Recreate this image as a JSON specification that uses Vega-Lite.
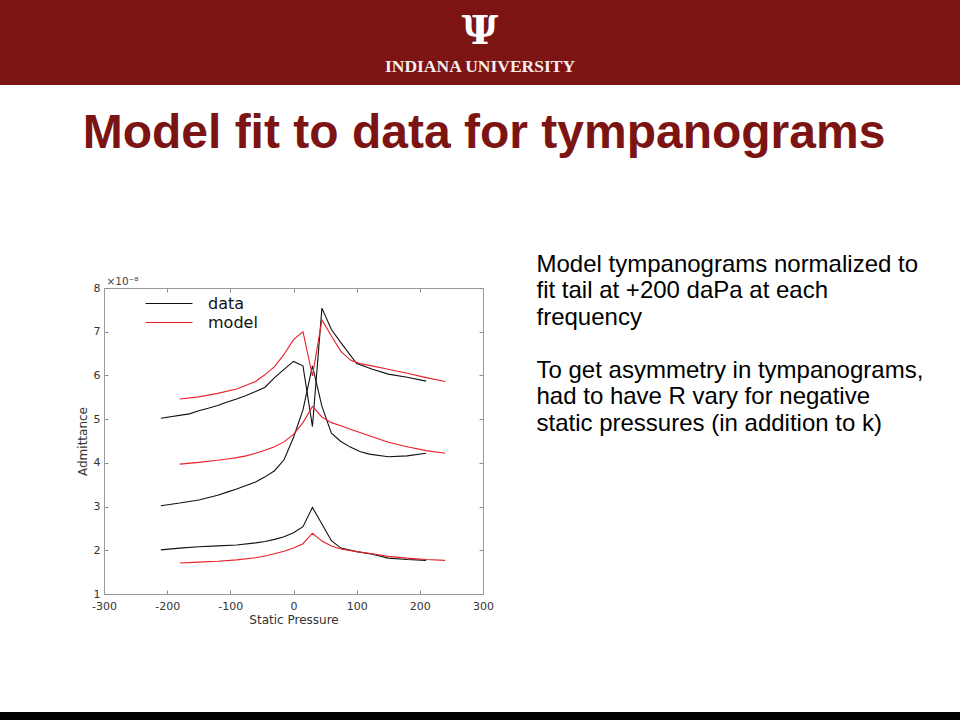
{
  "$schema": "https://vega.github.io/schema/vega-lite/v6.json",
  "padding": 0,
  "background": "white",
  "bounds": "flush",
  "spacing": 0,
  "config": {"view": {"stroke": null}, "font": "Liberation Sans"},
  "vconcat": [
    {
      "width": 960,
      "height": 85,
      "view": {"fill": "#7b1412", "stroke": null},
      "data": {"values": [{"logo": "Ψ", "org": "INDIANA UNIVERSITY"}]},
      "layer": [
        {"mark": {"type": "text", "font": "DejaVu Serif", "fontWeight": "bold", "fontSize": 40, "fill": "white", "baseline": "middle", "dy": -11}, "encoding": {"text": {"field": "logo"}}},
        {"mark": {"type": "text", "font": "Liberation Serif", "fontWeight": "bold", "fontSize": 17.5, "fill": "#f6eeee", "baseline": "alphabetic", "dy": 29}, "encoding": {"text": {"field": "org"}}}
      ]
    },
    {
      "width": 960,
      "height": 203,
      "data": {"values": [{"heading": "Model fit to data for tympanograms"}]},
      "mark": {"type": "text", "font": "Liberation Sans", "fontWeight": "bold", "fontSize": 48, "fill": "#7b1412", "baseline": "alphabetic", "dx": 4, "dy": -38.5},
      "encoding": {"text": {"field": "heading"}}
    },
    {
      "width": 960,
      "height": 306,
      "layer": [
        {
          "data": {"name": "tymp"},
          "transform": [{"filter": "datum.series === 'data'"}],
          "mark": {"type": "line", "strokeWidth": 1.1},
          "encoding": {
            "x": {"field": "pressure", "type": "quantitative", "scale": {"domain": [-300, 300], "range": [104, 483], "nice": false},
              "axis": {"orient": "bottom", "values": [-300, -200, -100, 0, 100, 200, 300], "labelExpr": "replace(datum.label, '−', '-')", "title": "Static Pressure", "grid": false, "domain": true, "domainColor": "#9a9a9a", "tickSize": -4, "tickColor": "#8c8c8c", "labelPadding": 10, "labelFlush": false, "labelOverlap": false, "labelFont": "DejaVu Sans", "labelFontSize": 11, "labelColor": "#333333", "titleFont": "DejaVu Sans", "titleFontSize": 12, "titleFontWeight": "normal", "titleColor": "#333333", "titlePadding": 3}},
            "y": {"field": "admittance", "type": "quantitative", "scale": {"domain": [1, 8], "nice": false},
              "axis": {"orient": "left", "offset": -104, "values": [1, 2, 3, 4, 5, 6, 7, 8], "title": "Admittance", "grid": false, "domain": true, "domainColor": "#9a9a9a", "tickSize": -4, "tickColor": "#8c8c8c", "labelPadding": 8, "labelFlush": false, "labelOverlap": false, "labelFont": "DejaVu Sans", "labelFontSize": 11, "labelColor": "#333333", "titleFont": "DejaVu Sans", "titleFontSize": 12, "titleFontWeight": "normal", "titleColor": "#333333", "titlePadding": 4}},
            "color": {"field": "series", "type": "nominal", "scale": {"domain": ["data", "model"], "range": ["#111111", "#e8202a"]},
              "legend": {"orient": "none", "legendX": 159, "legendY": 293.5, "title": null, "direction": "vertical", "symbolType": "M-2.5,0H2.5", "symbolSize": 353, "symbolStrokeWidth": 1.1, "symbolFillColor": "transparent", "labelFont": "DejaVu Sans", "labelFontSize": 16, "labelColor": "#111111", "labelOffset": 29, "rowPadding": 1, "padding": 0}},
            "detail": {"field": "curve"}
          }
        },
        {
          "data": {"name": "tymp"},
          "transform": [{"filter": "datum.series === 'model'"}],
          "mark": {"type": "line", "strokeWidth": 1.1},
          "encoding": {
            "x": {"field": "pressure", "type": "quantitative", "scale": {"domain": [-300, 300], "range": [104, 483], "nice": false},
              "axis": {"orient": "top", "values": [-300, -200, -100, 0, 100, 200, 300], "labels": false, "grid": false, "domain": true, "domainColor": "#9a9a9a", "tickSize": -4, "tickColor": "#8c8c8c", "title": "×10⁻⁸", "titleAnchor": "start", "titleAlign": "left", "titleBaseline": "alphabetic", "titleX": 106, "titleY": -4, "titleFont": "DejaVu Sans", "titleFontSize": 10.5, "titleFontWeight": "normal", "titleColor": "#444444"}},
            "y": {"field": "admittance", "type": "quantitative", "scale": {"domain": [1, 8], "nice": false},
              "axis": {"orient": "right", "offset": -477, "values": [1, 2, 3, 4, 5, 6, 7, 8], "labels": false, "grid": false, "domain": true, "domainColor": "#9a9a9a", "tickSize": -4, "tickColor": "#8c8c8c", "title": null}},
            "color": {"field": "series", "type": "nominal", "scale": {"domain": ["data", "model"], "range": ["#111111", "#e8202a"]},
              "legend": {"orient": "none", "legendX": 159, "legendY": 293.5, "title": null, "direction": "vertical", "symbolType": "M-2.5,0H2.5", "symbolSize": 353, "symbolStrokeWidth": 1.1, "symbolFillColor": "transparent", "labelFont": "DejaVu Sans", "labelFontSize": 16, "labelColor": "#111111", "labelOffset": 29, "rowPadding": 1, "padding": 0}},
            "detail": {"field": "curve"}
          }
        },
        {
          "data": {"values": [{"note": "Model tympanograms normalized to\nfit tail at +200 daPa at each\nfrequency"}]},
          "mark": {"type": "text", "font": "Liberation Sans", "fontSize": 24, "fill": "#000000", "align": "left", "baseline": "alphabetic", "lineBreak": "\n", "lineHeight": 26.6, "dx": 56.5, "dy": -169.3},
          "encoding": {"text": {"field": "note"}}
        },
        {
          "data": {"values": [{"note": "To get asymmetry in tympanograms,\nhad to have R vary for negative\nstatic pressures (in addition to k)"}]},
          "mark": {"type": "text", "font": "Liberation Sans", "fontSize": 24, "fill": "#000000", "align": "left", "baseline": "alphabetic", "lineBreak": "\n", "lineHeight": 26.6, "dx": 56.5, "dy": -63.5},
          "encoding": {"text": {"field": "note"}}
        }
      ]
    },
    {
      "width": 960,
      "height": 118,
      "data": {"values": [{"blank": ""}]},
      "mark": {"type": "text"},
      "encoding": {"text": {"field": "blank"}}
    },
    {
      "width": 960,
      "height": 8,
      "view": {"fill": "#000000", "stroke": null},
      "data": {"values": [{"blank": ""}]},
      "mark": {"type": "text"},
      "encoding": {"text": {"field": "blank"}}
    }
  ],
  "datasets": {
    "tymp": [
      {"series": "data", "curve": "A", "pressure": -210, "admittance": 5.02},
      {"series": "data", "curve": "A", "pressure": -165, "admittance": 5.12},
      {"series": "data", "curve": "A", "pressure": -150, "admittance": 5.19},
      {"series": "data", "curve": "A", "pressure": -135, "admittance": 5.25},
      {"series": "data", "curve": "A", "pressure": -120, "admittance": 5.31},
      {"series": "data", "curve": "A", "pressure": -105, "admittance": 5.39},
      {"series": "data", "curve": "A", "pressure": -90, "admittance": 5.46},
      {"series": "data", "curve": "A", "pressure": -75, "admittance": 5.54},
      {"series": "data", "curve": "A", "pressure": -60, "admittance": 5.63},
      {"series": "data", "curve": "A", "pressure": -45, "admittance": 5.73},
      {"series": "data", "curve": "A", "pressure": -30, "admittance": 5.95},
      {"series": "data", "curve": "A", "pressure": -15, "admittance": 6.14},
      {"series": "data", "curve": "A", "pressure": 0, "admittance": 6.32},
      {"series": "data", "curve": "A", "pressure": 15, "admittance": 6.22},
      {"series": "data", "curve": "A", "pressure": 30, "admittance": 4.83},
      {"series": "data", "curve": "A", "pressure": 45, "admittance": 7.54},
      {"series": "data", "curve": "A", "pressure": 60, "admittance": 7.05},
      {"series": "data", "curve": "A", "pressure": 75, "admittance": 6.75},
      {"series": "data", "curve": "A", "pressure": 100, "admittance": 6.27},
      {"series": "data", "curve": "A", "pressure": 125, "admittance": 6.14},
      {"series": "data", "curve": "A", "pressure": 150, "admittance": 6.03},
      {"series": "data", "curve": "A", "pressure": 180, "admittance": 5.96},
      {"series": "data", "curve": "A", "pressure": 210, "admittance": 5.87},
      {"series": "model", "curve": "A", "pressure": -180, "admittance": 5.46},
      {"series": "model", "curve": "A", "pressure": -150, "admittance": 5.51},
      {"series": "model", "curve": "A", "pressure": -120, "admittance": 5.59},
      {"series": "model", "curve": "A", "pressure": -90, "admittance": 5.69},
      {"series": "model", "curve": "A", "pressure": -60, "admittance": 5.86},
      {"series": "model", "curve": "A", "pressure": -45, "admittance": 6.02},
      {"series": "model", "curve": "A", "pressure": -30, "admittance": 6.2},
      {"series": "model", "curve": "A", "pressure": -15, "admittance": 6.48},
      {"series": "model", "curve": "A", "pressure": 0, "admittance": 6.82},
      {"series": "model", "curve": "A", "pressure": 15, "admittance": 7.0},
      {"series": "model", "curve": "A", "pressure": 30, "admittance": 5.99},
      {"series": "model", "curve": "A", "pressure": 45, "admittance": 7.27},
      {"series": "model", "curve": "A", "pressure": 60, "admittance": 6.9},
      {"series": "model", "curve": "A", "pressure": 75, "admittance": 6.55},
      {"series": "model", "curve": "A", "pressure": 90, "admittance": 6.35},
      {"series": "model", "curve": "A", "pressure": 105, "admittance": 6.27},
      {"series": "model", "curve": "A", "pressure": 120, "admittance": 6.23},
      {"series": "model", "curve": "A", "pressure": 150, "admittance": 6.14},
      {"series": "model", "curve": "A", "pressure": 180, "admittance": 6.05},
      {"series": "model", "curve": "A", "pressure": 210, "admittance": 5.95},
      {"series": "model", "curve": "A", "pressure": 240, "admittance": 5.86},
      {"series": "data", "curve": "B", "pressure": -210, "admittance": 3.02},
      {"series": "data", "curve": "B", "pressure": -180, "admittance": 3.08},
      {"series": "data", "curve": "B", "pressure": -150, "admittance": 3.15},
      {"series": "data", "curve": "B", "pressure": -120, "admittance": 3.26},
      {"series": "data", "curve": "B", "pressure": -105, "admittance": 3.33},
      {"series": "data", "curve": "B", "pressure": -90, "admittance": 3.4},
      {"series": "data", "curve": "B", "pressure": -75, "admittance": 3.48},
      {"series": "data", "curve": "B", "pressure": -60, "admittance": 3.56},
      {"series": "data", "curve": "B", "pressure": -45, "admittance": 3.68},
      {"series": "data", "curve": "B", "pressure": -30, "admittance": 3.82},
      {"series": "data", "curve": "B", "pressure": -15, "admittance": 4.07},
      {"series": "data", "curve": "B", "pressure": 0, "admittance": 4.58},
      {"series": "data", "curve": "B", "pressure": 15, "admittance": 5.21},
      {"series": "data", "curve": "B", "pressure": 30, "admittance": 6.22},
      {"series": "data", "curve": "B", "pressure": 45, "admittance": 5.29},
      {"series": "data", "curve": "B", "pressure": 60, "admittance": 4.68},
      {"series": "data", "curve": "B", "pressure": 75, "admittance": 4.49},
      {"series": "data", "curve": "B", "pressure": 90, "admittance": 4.36},
      {"series": "data", "curve": "B", "pressure": 105, "admittance": 4.26},
      {"series": "data", "curve": "B", "pressure": 120, "admittance": 4.2},
      {"series": "data", "curve": "B", "pressure": 150, "admittance": 4.14},
      {"series": "data", "curve": "B", "pressure": 180, "admittance": 4.16},
      {"series": "data", "curve": "B", "pressure": 210, "admittance": 4.22},
      {"series": "model", "curve": "B", "pressure": -180, "admittance": 3.97},
      {"series": "model", "curve": "B", "pressure": -150, "admittance": 4.01},
      {"series": "model", "curve": "B", "pressure": -120, "admittance": 4.06},
      {"series": "model", "curve": "B", "pressure": -105, "admittance": 4.09},
      {"series": "model", "curve": "B", "pressure": -90, "admittance": 4.12},
      {"series": "model", "curve": "B", "pressure": -75, "admittance": 4.16},
      {"series": "model", "curve": "B", "pressure": -60, "admittance": 4.22},
      {"series": "model", "curve": "B", "pressure": -45, "admittance": 4.29},
      {"series": "model", "curve": "B", "pressure": -30, "admittance": 4.37},
      {"series": "model", "curve": "B", "pressure": -15, "admittance": 4.48},
      {"series": "model", "curve": "B", "pressure": 0, "admittance": 4.65},
      {"series": "model", "curve": "B", "pressure": 15, "admittance": 4.92},
      {"series": "model", "curve": "B", "pressure": 30, "admittance": 5.29},
      {"series": "model", "curve": "B", "pressure": 45, "admittance": 5.05},
      {"series": "model", "curve": "B", "pressure": 60, "admittance": 4.92},
      {"series": "model", "curve": "B", "pressure": 75, "admittance": 4.85},
      {"series": "model", "curve": "B", "pressure": 90, "admittance": 4.77},
      {"series": "model", "curve": "B", "pressure": 120, "admittance": 4.62},
      {"series": "model", "curve": "B", "pressure": 150, "admittance": 4.47},
      {"series": "model", "curve": "B", "pressure": 180, "admittance": 4.37},
      {"series": "model", "curve": "B", "pressure": 210, "admittance": 4.28},
      {"series": "model", "curve": "B", "pressure": 240, "admittance": 4.22},
      {"series": "data", "curve": "C", "pressure": -210, "admittance": 2.01},
      {"series": "data", "curve": "C", "pressure": -180, "admittance": 2.05},
      {"series": "data", "curve": "C", "pressure": -150, "admittance": 2.08},
      {"series": "data", "curve": "C", "pressure": -120, "admittance": 2.1},
      {"series": "data", "curve": "C", "pressure": -90, "admittance": 2.12},
      {"series": "data", "curve": "C", "pressure": -60, "admittance": 2.17},
      {"series": "data", "curve": "C", "pressure": -45, "admittance": 2.2},
      {"series": "data", "curve": "C", "pressure": -30, "admittance": 2.25},
      {"series": "data", "curve": "C", "pressure": -15, "admittance": 2.31},
      {"series": "data", "curve": "C", "pressure": 0, "admittance": 2.4},
      {"series": "data", "curve": "C", "pressure": 15, "admittance": 2.54},
      {"series": "data", "curve": "C", "pressure": 30, "admittance": 2.98},
      {"series": "data", "curve": "C", "pressure": 45, "admittance": 2.6},
      {"series": "data", "curve": "C", "pressure": 60, "admittance": 2.22},
      {"series": "data", "curve": "C", "pressure": 75, "admittance": 2.05},
      {"series": "data", "curve": "C", "pressure": 100, "admittance": 1.97},
      {"series": "data", "curve": "C", "pressure": 125, "admittance": 1.91},
      {"series": "data", "curve": "C", "pressure": 150, "admittance": 1.82},
      {"series": "data", "curve": "C", "pressure": 180, "admittance": 1.79},
      {"series": "data", "curve": "C", "pressure": 210, "admittance": 1.77},
      {"series": "model", "curve": "C", "pressure": -180, "admittance": 1.71},
      {"series": "model", "curve": "C", "pressure": -150, "admittance": 1.73},
      {"series": "model", "curve": "C", "pressure": -120, "admittance": 1.75},
      {"series": "model", "curve": "C", "pressure": -90, "admittance": 1.78},
      {"series": "model", "curve": "C", "pressure": -60, "admittance": 1.83},
      {"series": "model", "curve": "C", "pressure": -45, "admittance": 1.87},
      {"series": "model", "curve": "C", "pressure": -30, "admittance": 1.92},
      {"series": "model", "curve": "C", "pressure": -15, "admittance": 1.98},
      {"series": "model", "curve": "C", "pressure": 0, "admittance": 2.05},
      {"series": "model", "curve": "C", "pressure": 15, "admittance": 2.15},
      {"series": "model", "curve": "C", "pressure": 30, "admittance": 2.39},
      {"series": "model", "curve": "C", "pressure": 45, "admittance": 2.21},
      {"series": "model", "curve": "C", "pressure": 60, "admittance": 2.1},
      {"series": "model", "curve": "C", "pressure": 75, "admittance": 2.03},
      {"series": "model", "curve": "C", "pressure": 100, "admittance": 1.97},
      {"series": "model", "curve": "C", "pressure": 125, "admittance": 1.92},
      {"series": "model", "curve": "C", "pressure": 150, "admittance": 1.86},
      {"series": "model", "curve": "C", "pressure": 180, "admittance": 1.82},
      {"series": "model", "curve": "C", "pressure": 210, "admittance": 1.79},
      {"series": "model", "curve": "C", "pressure": 240, "admittance": 1.77}
    ]
  }
}
